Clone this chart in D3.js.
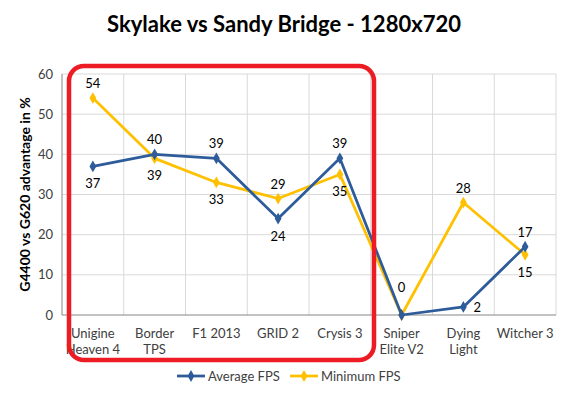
<!DOCTYPE html>
<html lang="en">
<head>
<meta charset="UTF-8">
<title>Skylake vs Sandy Bridge</title>
<script src="https://cdn.jsdelivr.net/npm/d3@7"></script>
<style>
  body { margin: 0; background: #fff; }
  text { font-family: Lato, "Open Sans", sans-serif; }
</style>
</head>
<body>
<script>
// data
const games = ["Unigine|Heaven 4", "Border|TPS", "F1 2013", "GRID 2", "Crysis 3", "Sniper|Elite V2", "Dying|Light", "Witcher 3"];
const avgFps = [37, 40, 39, 24, 39, 0, 2, 17];
const minFps = [54, 39, 33, 29, 35, 0, 28, 15];
const yTicks = [0, 10, 20, 30, 40, 50, 60];
// label placement per point: "a" above, "b" below, "r" right, "h" high above, null none
const avgPos = ["b", "a", "a", "b", "a", "h", "r", "a"];
const minPos = ["a", "b", "b", "a", "b", null, "a", "b"];

const width = 569, height = 396;
const marginLeft = 62, marginRight = 13, marginTop = 74, marginBottom = 81;

const svg = d3.select("body").append("svg")
  .attr("width", width).attr("height", height);

const x = d3.scaleBand().domain(games).range([marginLeft, width - marginRight]);
const y = d3.scaleLinear().domain([0, 60]).range([height - marginBottom, marginTop]);
const cx = d => x(d) + x.bandwidth() / 2;

// grid
svg.append("g").selectAll("line").data(yTicks.slice(1)).join("line")
  .attr("x1", marginLeft).attr("x2", width - marginRight)
  .attr("y1", d => y(d)).attr("y2", d => y(d))
  .attr("stroke", "#d9d9d9");
svg.append("g").selectAll("line").data(games.slice(1).concat(["end"])).join("line")
  .attr("x1", d => d === "end" ? width - marginRight : x(d))
  .attr("x2", d => d === "end" ? width - marginRight : x(d))
  .attr("y1", y(0)).attr("y2", y(60))
  .attr("stroke", "#d9d9d9");

// axes
svg.append("line").attr("x1", marginLeft).attr("x2", marginLeft)
  .attr("y1", y(0)).attr("y2", y(60)).attr("stroke", "#868686");
svg.append("line").attr("x1", marginLeft).attr("x2", width - marginRight)
  .attr("y1", y(0)).attr("y2", y(0)).attr("stroke", "#868686");

svg.append("g").selectAll("text").data(yTicks).join("text")
  .attr("x", marginLeft - 9).attr("y", d => y(d) + 4.5)
  .attr("text-anchor", "end").attr("font-size", 13).attr("fill", "#404040")
  .text(d => d);

const catLabels = svg.append("g").selectAll("text").data(games).join("text")
  .attr("text-anchor", "middle").attr("font-size", 13).attr("fill", "#404040");
catLabels.each(function (d) {
  d3.select(this).selectAll("tspan").data(d.split("|")).join("tspan")
    .attr("x", cx(d)).attr("y", (t, i) => y(0) + 23 + i * 16)
    .text(t => t);
});

svg.append("text")
  .attr("transform", `translate(30,${y(30)}) rotate(-90)`)
  .attr("text-anchor", "middle").attr("font-size", 14).attr("font-weight", "bold")
  .attr("fill", "#000").text("G4400 vs G620 advantage in %");

svg.append("text").attr("x", 284).attr("y", 32)
  .attr("text-anchor", "middle").attr("font-size", 22).attr("font-weight", "bold")
  .text("Skylake vs Sandy Bridge - 1280x720");

// series
const diamond = d3.symbol().type(d3.symbolDiamond).size(40);
const series = [
  { name: "Average FPS", values: avgFps, pos: avgPos, color: "#2E5C9A" },
  { name: "Minimum FPS", values: minFps, pos: minPos, color: "#FFC000" }
];
const line = d3.line().x((d, i) => cx(games[i])).y(d => y(d));

[series[1], series[0]].forEach(s => {
  svg.append("path").datum(s.values).attr("d", line)
    .attr("fill", "none").attr("stroke", s.color).attr("stroke-width", 2.75)
    .attr("stroke-linejoin", "round");
  svg.append("g").selectAll("path").data(s.values).join("path")
    .attr("d", diamond)
    .attr("transform", (d, i) => `translate(${cx(games[i])},${y(d)})`)
    .attr("fill", s.color);
});

const dy = { a: -10, b: 22, r: 5, h: -23 };
series.forEach(s => {
  const pts = s.values.map((v, i) => ({ v, game: games[i], pos: s.pos[i] }))
    .filter(p => p.pos);
  svg.append("g").selectAll("text").data(pts).join("text")
    .attr("x", p => cx(p.game) + (p.pos === "r" ? 10 : 0))
    .attr("y", p => y(p.v) + dy[p.pos])
    .attr("text-anchor", p => p.pos === "r" ? "start" : "middle")
    .attr("font-size", 13).attr("fill", "#000")
    .text(p => p.v);
});

// legend
const legend = svg.append("g").selectAll("g").data(series).join("g")
  .attr("transform", (d, i) => `translate(${177 + i * 113},376)`);
legend.append("line").attr("x1", 0).attr("x2", 28)
  .attr("stroke", d => d.color).attr("stroke-width", 2.75);
legend.append("path").attr("d", diamond).attr("transform", "translate(14,0)")
  .attr("fill", d => d.color);
legend.append("text").attr("x", 31).attr("y", 4.5)
  .attr("font-size", 13).attr("fill", "#404040").text(d => d.name);

// highlight box
svg.append("rect")
  .attr("x", 69).attr("y", 66).attr("width", 305).attr("height", 294)
  .attr("rx", 15).attr("ry", 15)
  .attr("fill", "none").attr("stroke", "#ED1C24").attr("stroke-width", 4.5);
</script>
</body>
</html>
